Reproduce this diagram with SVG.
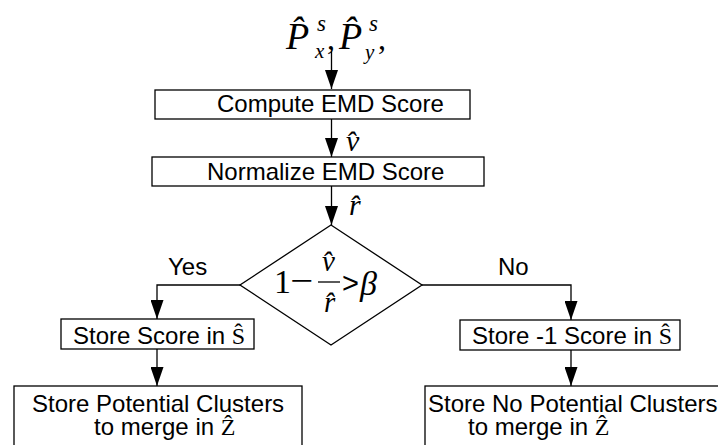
<svg xmlns="http://www.w3.org/2000/svg" width="718" height="445" viewBox="0 0 718 445">
  <defs>
    <marker id="arrow" markerUnits="userSpaceOnUse" markerWidth="19" markerHeight="13" refX="19" refY="6.5" orient="auto">
      <path d="M0,0 L19,6.5 L0,13 z" fill="#000"/>
    </marker>
    <style>
      .box { fill: #fff; stroke: #000; stroke-width: 1.3; }
      .edge { fill: none; stroke: #000; stroke-width: 1.3; marker-end: url(#arrow); }
      .lbl { font-family: "Liberation Sans", Arial, sans-serif; font-size: 24px; fill: #000; }
      .m { font-family: "Liberation Serif", "Times New Roman", serif; font-style: italic; fill: #000; }
      .up { font-family: "Liberation Serif", "DejaVu Serif", "Times New Roman", serif; font-style: normal; }
      .sans { font-family: "Liberation Sans", Arial, sans-serif; font-style: normal; }
    </style>
  </defs>

  <rect width="718" height="445" fill="#fff"/>

  <!-- input distributions: P-hat^s_x, P-hat^s_y -->
  <g id="input">
    <text class="m" font-size="38"><tspan x="286" y="49">P̂</tspan><tspan x="317" y="31" font-size="23">s</tspan><tspan x="315" y="58" font-size="21">x</tspan><tspan class="up" x="327" y="49" font-size="32">,</tspan><tspan x="339" y="49">P̂</tspan><tspan x="369" y="31" font-size="23">s</tspan><tspan x="365" y="59" font-size="21">y</tspan><tspan class="up" x="378" y="49" font-size="32">,</tspan></text>
  </g>

  <!-- connectors -->
  <g id="connectors">
    <path class="edge" d="M331.5,51 V89"/>
    <path class="edge" d="M331.5,119 V157"/>
    <path class="edge" d="M331.5,186 V225"/>
    <path class="edge" d="M240,285 H157 V319"/>
    <path class="edge" d="M422,285 H571 V320"/>
    <path class="edge" d="M157,349 V386"/>
    <path class="edge" d="M571,350 V386"/>
  </g>

  <!-- edge labels -->
  <g id="edge-labels">
    <text class="m" x="346" y="151" font-size="30">v̂</text>
    <text class="m" x="349" y="215" font-size="30">r̂</text>
    <text class="lbl" x="168" y="275">Yes</text>
    <text class="lbl" x="498" y="275">No</text>
  </g>

  <g id="compute">
    <rect class="box" x="155" y="90" width="315" height="29"/>
    <text class="lbl" x="217" y="112">Compute EMD Score</text>
  </g>

  <g id="normalize">
    <rect class="box" x="152" y="157" width="332" height="29"/>
    <text class="lbl" x="207" y="180">Normalize EMD Score</text>
  </g>

  <!-- decision: 1 - v/r > beta -->
  <g id="decision">
    <polygon class="box" points="331,225 422,285 331,345 240,285"/>
    <line x1="318" y1="282" x2="340" y2="282" stroke="#000" stroke-width="1.3"/>
    <text class="m" font-size="34"><tspan class="up" x="274" y="293">1</tspan><tspan class="up" x="290" y="292" textLength="23" lengthAdjust="spacingAndGlyphs">−</tspan><tspan x="322" y="271" font-size="29">v̂</tspan><tspan x="324" y="312" font-size="29">r̂</tspan><tspan class="sans" x="342" y="293" font-size="29">&gt;</tspan><tspan x="360" y="295">β</tspan></text>
  </g>

  <g id="store-score">
    <rect class="box" x="61" y="319" width="193" height="30"/>
    <text class="lbl" x="73" y="344">Store Score in <tspan class="up">Ŝ</tspan></text>
  </g>

  <g id="store-neg">
    <rect class="box" x="460" y="320" width="220" height="30"/>
    <text class="lbl" x="472" y="344">Store -1 Score in <tspan class="up">Ŝ</tspan></text>
  </g>

  <g id="merge">
    <rect class="box" x="14" y="386" width="288" height="70"/>
    <text class="lbl"><tspan x="32" y="412">Store Potential Clusters</tspan><tspan x="94" y="435">to merge in <tspan class="up">Ẑ</tspan></tspan></text>
  </g>

  <g id="no-merge">
    <rect class="box" x="425" y="386" width="300" height="70"/>
    <text class="lbl"><tspan x="428" y="412">Store No Potential Clusters</tspan><tspan x="468" y="435">to merge in <tspan class="up">Ẑ</tspan></tspan></text>
  </g>
</svg>
